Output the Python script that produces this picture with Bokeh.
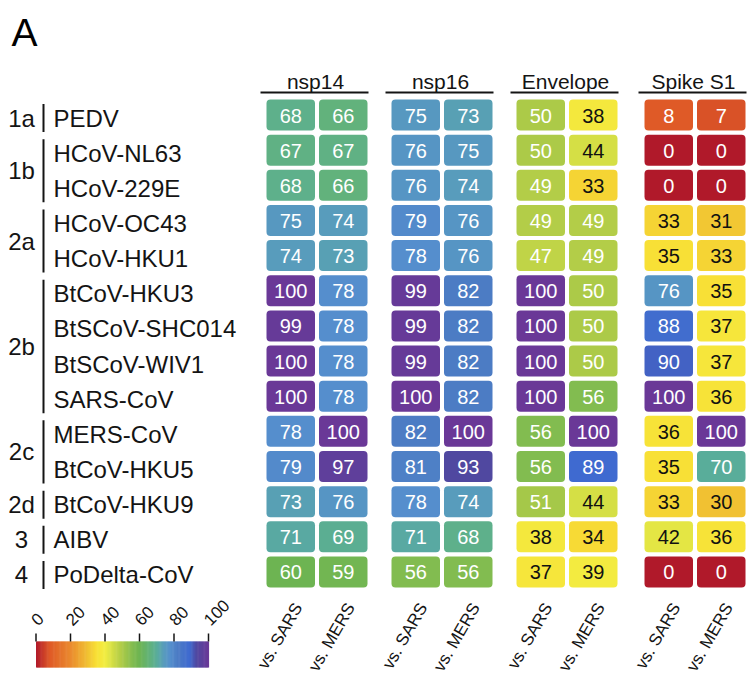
import numpy as np
from bokeh.plotting import figure
from bokeh.models import ColumnDataSource, Range1d
from bokeh.core.properties import value
from bokeh.embed import file_html
from bokeh.resources import INLINE

# ---------------- data ----------------
viruses = ["PEDV", "HCoV-NL63", "HCoV-229E", "HCoV-OC43", "HCoV-HKU1",
           "BtCoV-HKU3", "BtSCoV-SHC014", "BtSCoV-WIV1", "SARS-CoV",
           "MERS-CoV", "BtCoV-HKU5", "BtCoV-HKU9", "AIBV", "PoDelta-CoV"]
clade_labels = ["1a", "1b", "2a", "2b", "2c", "2d", "3", "4"]
clade_first = [0, 1, 3, 5, 9, 11, 12, 13]
clade_last = [0, 2, 4, 8, 10, 11, 12, 13]
proteins = ["nsp14", "nsp16", "Envelope", "Spike S1"]
comparisons = ["vs. SARS", "vs. MERS"]

nsp14_sars = [68, 67, 68, 75, 74, 100, 99, 100, 100, 78, 79, 73, 71, 60]
nsp14_mers = [66, 67, 66, 74, 73, 78, 78, 78, 78, 100, 97, 76, 69, 59]
nsp16_sars = [75, 76, 76, 79, 78, 99, 99, 99, 100, 82, 81, 78, 71, 56]
nsp16_mers = [73, 75, 74, 76, 76, 82, 82, 82, 82, 100, 93, 74, 68, 56]
env_sars = [50, 50, 49, 49, 47, 100, 100, 100, 100, 56, 56, 51, 38, 37]
env_mers = [38, 44, 33, 49, 49, 50, 50, 50, 56, 100, 89, 44, 34, 39]
spike_sars = [8, 0, 0, 33, 35, 76, 88, 90, 100, 36, 35, 33, 42, 0]
spike_mers = [7, 0, 0, 31, 33, 35, 37, 37, 36, 100, 70, 30, 36, 0]

series = [nsp14_sars, nsp14_mers, nsp16_sars, nsp16_mers,
          env_sars, env_mers, spike_sars, spike_mers]

stop_values = [0, 8, 20, 30, 35, 40, 45, 50, 56, 60, 66, 70, 74, 78, 82, 89, 93, 100]
stop_colors = ["#b0192a", "#df5a27", "#ea8a2e", "#f1c132", "#f8e036", "#f2ee42",
               "#cedb46", "#acca48", "#82bc50", "#6db452", "#62b27c", "#59ad9a",
               "#589cbc", "#558ecd", "#4c7cc4", "#3f6ad0", "#5048a0", "#6a3897"]
colorbar_ticks = [0, 20, 40, 60, 80, 100]

# ---------------- helpers ----------------
def hex2rgb(h):
    return [int(h[i:i + 2], 16) for i in (1, 3, 5)]

stop_rgb = np.array([hex2rgb(c) for c in stop_colors], dtype=float)

def cmap(v):
    r = np.interp(v, stop_values, stop_rgb[:, 0])
    g = np.interp(v, stop_values, stop_rgb[:, 1])
    b = np.interp(v, stop_values, stop_rgb[:, 2])
    return "#%02x%02x%02x" % (int(round(r)), int(round(g)), int(round(b)))

FONT = value("Liberation Sans")
INK = "#141414"

# layout (y data = -page y)
row0, row_pitch, cell_h = 114.5, 35.15, 31.0
group_left = [266, 391, 516, 644]
pair_step, cell_w = 52.5, 48.5

def row_c(i):
    return row0 + i * row_pitch

p = figure(width=752, height=677, x_range=Range1d(0, 752), y_range=Range1d(-677, 0),
           output_backend="svg", toolbar_location=None, x_axis_type=None, y_axis_type=None,
           min_border=0, min_border_left=0, min_border_right=0, min_border_top=0,
           min_border_bottom=0)
p.grid.visible = False
p.outline_line_color = None
p.background_fill_color = "white"
p.border_fill_color = "white"

# ---------------- cells ----------------
L, R, T, B, C, X, Y, TXT, TC = [], [], [], [], [], [], [], [], []
for k, vals in enumerate(series):
    g, j = divmod(k, 2)
    left = group_left[g] + j * pair_step
    for i, v in enumerate(vals):
        c = row_c(i)
        L.append(left); R.append(left + cell_w)
        T.append(-(c - cell_h / 2)); B.append(-(c + cell_h / 2))
        C.append(cmap(v))
        X.append(left + cell_w / 2); Y.append(-(c + 0.5))
        TXT.append(str(v))
        TC.append("#111111" if 25 <= v <= 45 else "#ffffff")

src = ColumnDataSource(dict(l=L, r=R, t=T, b=B, c=C, x=X, y=Y, txt=TXT, tc=TC))
p.quad(left="l", right="r", top="t", bottom="b", fill_color="c", line_color=None,
       border_radius=4, source=src)
p.text(x="x", y="y", text="txt", text_color="tc", text_font=FONT, text_font_size="20px",
       text_align="center", text_baseline="middle", source=src)

# ---------------- headers ----------------
hx, hl, hr = [], [], []
for g, name in enumerate(proteins):
    gl = group_left[g]
    gr = gl + pair_step + cell_w
    hx.append((gl - 3 + gr) / 2)
    hl.append(gl - 6); hr.append(gr + 1)
p.text(x=hx, y=[-81] * 4, text=proteins, text_font=FONT, text_font_size="21px",
       text_color=INK, text_align="center", text_baseline="middle")
p.segment(x0=hl, x1=hr, y0=[-92] * 4, y1=[-92] * 4, line_color=INK, line_width=2)

# ---------------- bottom labels ----------------
bx, bt = [], []
for k in range(len(series)):
    g, j = divmod(k, 2)
    bx.append(group_left[g] + j * pair_step + cell_w / 2 + 7.5)
    bt.append(comparisons[j])
p.text(x=bx, y=[-604] * len(bx), text=bt, angle=np.pi / 3, text_font=FONT,
       text_font_size="17px", text_color=INK, text_align="right", text_baseline="middle")

# ---------------- row labels ----------------
p.text(x=[53] * len(viruses), y=[-(row_c(i) + 3) for i in range(len(viruses))],
       text=viruses, text_font=FONT, text_font_size="24px", text_color=INK,
       text_align="left", text_baseline="middle")

gy, b0, b1 = [], [], []
for f, l in zip(clade_first, clade_last):
    gy.append(-((row_c(f) + row_c(l)) / 2 + 3))
    b0.append(-(row_c(f) + 3 - 14)); b1.append(-(row_c(l) + 3 + 14))
p.text(x=[21] * len(clade_labels), y=gy, text=clade_labels, text_font=FONT,
       text_font_size="24px", text_color=INK, text_align="center", text_baseline="middle")
p.segment(x0=[43] * len(b0), x1=[43] * len(b0), y0=b0, y1=b1, line_color=INK, line_width=2)

# ---------------- panel letter ----------------
p.text(x=[11], y=[-32], text=["A"], text_font=FONT, text_font_size="39px",
       text_color="#000000", text_align="left", text_baseline="middle")

# ---------------- colour bar ----------------
cb_x0, cb_x1, cb_top, cb_bot = 35.5, 208.0, 641.0, 667.0
vals = np.linspace(0, 100, 201)
scale = (cb_x1 - cb_x0) / 100.0
cl = [cb_x0 + v * scale for v in vals[:-1]]
cr = [cb_x0 + v * scale + 0.6 for v in vals[1:]]
cc = [cmap((a + b) / 2) for a, b in zip(vals[:-1], vals[1:])]
p.quad(left=cl, right=cr, top=[-cb_top] * len(cl), bottom=[-cb_bot] * len(cl),
       fill_color=cc, line_color=None)
tx = [cb_x0 + t * scale for t in colorbar_ticks]
p.segment(x0=tx, x1=tx, y0=[-633] * len(tx), y1=[-cb_top] * len(tx),
          line_color=INK, line_width=1.5)
p.text(x=[x - 2 for x in tx], y=[-622] * len(tx), text=[str(t) for t in colorbar_ticks],
       angle=np.pi / 4, text_font=FONT, text_font_size="17px", text_color=INK,
       text_align="left", text_baseline="middle")

open("out.html", "w").write(file_html(p, INLINE))
